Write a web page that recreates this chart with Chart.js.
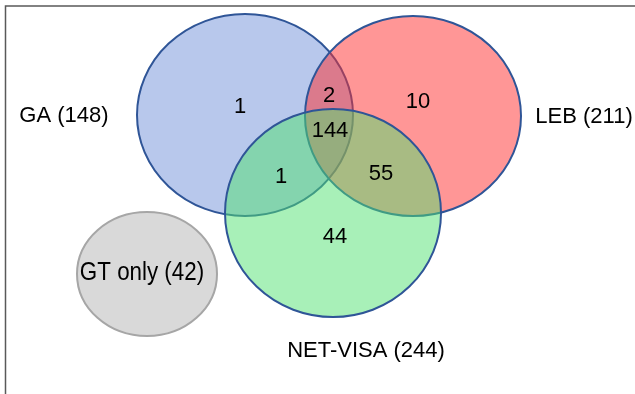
<!DOCTYPE html>
<html>
<head>
<meta charset="utf-8">
<script src="https://cdn.jsdelivr.net/npm/chart.js@4"></script>
<style>
html,body{margin:0;padding:0;background:#fff;}
#wrap{width:635px;height:394px;position:relative;}
</style>
</head>
<body>
<div id="wrap"><canvas id="c" width="635" height="394"></canvas></div>
<script>
// ---- data ----
const setNames = ["GA", "LEB", "NET-VISA", "GT only"];
const setTotals = [148, 211, 244, 42];
const regionNames = ["GA only", "GA∩LEB", "LEB only", "GA∩LEB∩NET-VISA", "GA∩NET-VISA", "LEB∩NET-VISA", "NET-VISA only"];
const regionCounts = [1, 2, 10, 144, 1, 55, 44];

// ---- layout (in axis units, 1 unit = 1 px) ----
const ellCx = [245, 413, 333, 147];
const ellCy = [115, 116, 213, 274];
const ellRx = [108, 108, 108, 70];
const ellRy = [101, 100, 104, 62];
const setLabelX = [64, 584, 366, 142];
const setLabelY = [116, 117, 351, 273];
const regionX = [240, 329, 418, 330, 281, 381, 335];
const regionY = [107, 96, 102, 131, 177, 174, 237];

// ---- styles ----
const fills = ["rgba(113,145,217,0.5)", "rgba(255,45,45,0.5)", "rgba(81,225,113,0.5)", "#d9d9d9"];
const strokes = ["#2f5597", "#2f5597", "#2f5597", "#a6a6a6"];

const vennPlugin = {
  id: "venn",
  beforeDatasetsDraw(chart) {
    const {ctx, scales: {x, y}} = chart;
    ctx.save();
    // frame (top & left)
    ctx.strokeStyle = "#595959";
    ctx.lineWidth = 1.5;
    ctx.beginPath();
    ctx.moveTo(x.getPixelForValue(5.5), y.getPixelForValue(394));
    ctx.lineTo(x.getPixelForValue(5.5), y.getPixelForValue(6));
    ctx.lineTo(x.getPixelForValue(635), y.getPixelForValue(6));
    ctx.stroke();
    // ellipses: gray first, then GA, LEB, NET-VISA
    const order = [3, 0, 1, 2];
    order.forEach(i => {
      const cx = x.getPixelForValue(ellCx[i]);
      const cy = y.getPixelForValue(ellCy[i]);
      const rx = Math.abs(x.getPixelForValue(ellCx[i] + ellRx[i]) - cx);
      const ry = Math.abs(y.getPixelForValue(ellCy[i] + ellRy[i]) - cy);
      ctx.beginPath();
      ctx.ellipse(cx, cy, rx, ry, 0, 0, Math.PI * 2);
      ctx.fillStyle = fills[i];
      ctx.fill();
      ctx.lineWidth = 2;
      ctx.strokeStyle = strokes[i];
      ctx.stroke();
    });
    // texts
    ctx.fillStyle = "#000";
    ctx.textAlign = "center";
    ctx.textBaseline = "middle";
    setNames.forEach((n, i) => {
      const px = x.getPixelForValue(setLabelX[i]);
      const py = y.getPixelForValue(setLabelY[i]);
      const t = n + " (" + setTotals[i] + ")";
      if (i === 3) {
        ctx.save();
        ctx.translate(px, py);
        ctx.scale(0.86, 1);
        ctx.font = "26px 'Liberation Sans', Arial, sans-serif";
        ctx.fillText(t, 0, 0);
        ctx.restore();
      } else {
        ctx.font = "22px 'Liberation Sans', Arial, sans-serif";
        ctx.fillText(t, px, py);
      }
    });
    ctx.font = "22px 'Liberation Sans', Arial, sans-serif";
    regionCounts.forEach((v, i) => {
      ctx.fillText(String(v), x.getPixelForValue(regionX[i]), y.getPixelForValue(regionY[i]));
    });
    ctx.restore();
  }
};

new Chart(document.getElementById("c"), {
  type: "scatter",
  data: {
    datasets: [{
      label: "regions",
      data: regionCounts.map((v, i) => ({x: regionX[i], y: regionY[i], v})),
      pointRadius: 0,
      pointHoverRadius: 0
    }]
  },
  options: {
    responsive: false,
    animation: false,
    layout: {padding: 0},
    plugins: {legend: {display: false}, tooltip: {enabled: false}},
    scales: {
      x: {type: "linear", min: 0, max: 635, display: false},
      y: {type: "linear", min: 0, max: 394, reverse: true, display: false}
    }
  },
  plugins: [vennPlugin]
});
</script>
</body>
</html>
